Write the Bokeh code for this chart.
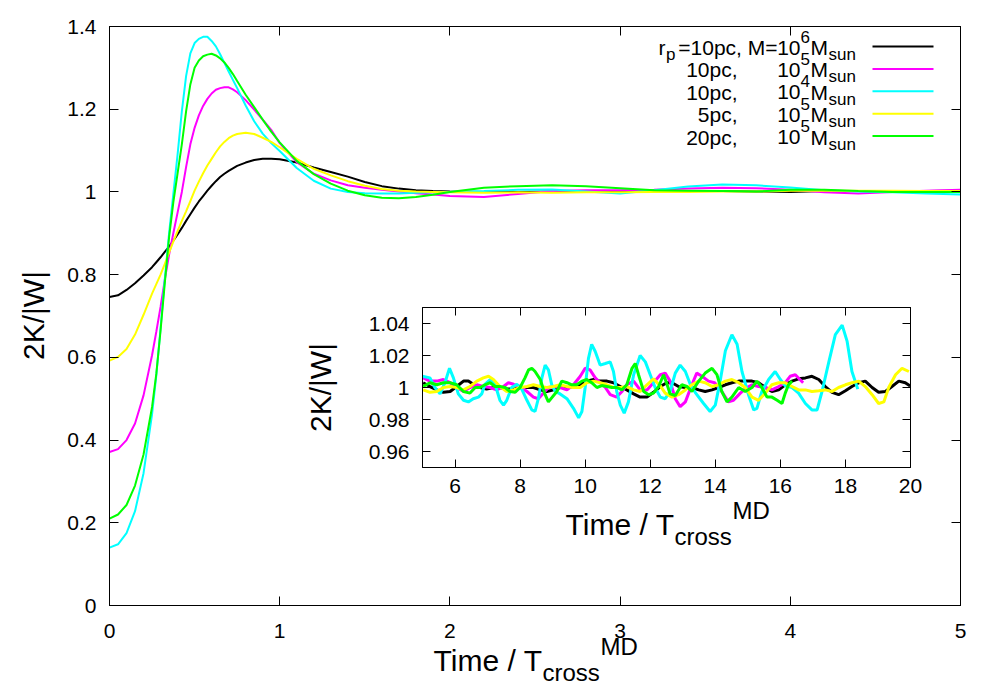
import math
from bokeh.plotting import figure
from bokeh.models import (Range1d, FixedTicker, LinearAxis, Label, Arrow,
                          CustomLabelingPolicy)
from bokeh.embed import file_html
from bokeh.resources import INLINE

# ---------------- data ----------------
MAIN_T = [0, 0.05, 0.1, 0.15, 0.2,
          0.25, 0.275, 0.3, 0.325, 0.35, 0.375, 0.4, 0.425, 0.45, 0.475, 0.5,
          0.525, 0.55, 0.575, 0.6, 0.625, 0.65, 0.675, 0.7, 0.725, 0.75,
          0.8, 0.85, 0.9, 0.95,
          1.0, 1.1, 1.2, 1.3, 1.4, 1.5, 1.6, 1.7, 1.8, 1.9,
          2.0, 2.2, 2.4, 2.6, 2.8, 3.0, 3.2, 3.4, 3.6, 3.8, 4.0, 4.2, 4.4, 4.6, 4.8, 5.0]

MAIN_BLACK = [0.746, 0.750, 0.763, 0.779, 0.798,
              0.818, 0.830, 0.842, 0.855, 0.868, 0.882, 0.897, 0.913, 0.930, 0.946, 0.962,
              0.977, 0.990, 1.003, 1.015, 1.026, 1.036, 1.044, 1.051, 1.057, 1.063,
              1.071, 1.077, 1.080, 1.080,
              1.079, 1.071, 1.059, 1.048, 1.037, 1.024, 1.014, 1.008, 1.004, 1.002,
              1.001, 1.000, 1.000, 1.001, 1.000, 1.000, 1.001, 1.002, 1.002, 1.001,
              1.000, 1.002, 1.002, 1.001, 1.002, 1.003]
MAIN_MAGENTA = [0.371, 0.378, 0.400, 0.440, 0.508,
                0.605, 0.662, 0.722, 0.788, 0.848, 0.900, 0.950, 1.000, 1.060, 1.115, 1.155,
                1.185, 1.208, 1.225, 1.238, 1.247, 1.251, 1.253, 1.253, 1.248, 1.241,
                1.222, 1.199, 1.175, 1.150,
                1.118, 1.072, 1.044, 1.028, 1.016, 1.010, 1.005, 1.001, 0.997, 0.994,
                0.990, 0.988, 0.995, 1.002, 1.004, 1.004, 1.005, 1.008, 1.010, 1.009,
                1.005, 0.999, 0.996, 1.000, 1.003, 1.005]
MAIN_CYAN = [0.140, 0.148, 0.175, 0.228, 0.320,
             0.462, 0.556, 0.670, 0.790, 0.900, 0.995, 1.090, 1.195, 1.280, 1.335, 1.360,
             1.370, 1.375, 1.375, 1.365, 1.352, 1.333, 1.312, 1.291, 1.271, 1.251,
             1.209, 1.171, 1.141, 1.118,
             1.099, 1.058, 1.027, 1.008, 1.000, 0.997, 0.996, 0.996, 0.998, 0.999,
             1.000, 1.002, 1.005, 1.006, 1.001, 0.996, 1.004, 1.013, 1.018, 1.016,
             1.011, 1.004, 1.001, 0.999, 0.996, 0.994]
MAIN_YELLOW = [0.592, 0.601, 0.620, 0.655, 0.703,
               0.754, 0.777, 0.800, 0.826, 0.853, 0.880, 0.905, 0.930, 0.953, 0.978, 1.003,
               1.025, 1.045, 1.064, 1.080, 1.096, 1.110, 1.121, 1.130, 1.136, 1.140,
               1.143, 1.140, 1.131, 1.121,
               1.108, 1.080, 1.056, 1.040, 1.026, 1.015, 1.007, 1.003, 1.001, 1.000,
               0.999, 0.998, 0.999, 0.998, 0.999, 0.999, 1.000, 1.000, 1.001, 1.001,
               1.003, 1.003, 1.003, 1.003, 1.002, 1.002]
MAIN_GREEN = [0.210, 0.220, 0.243, 0.290, 0.365,
              0.480, 0.560, 0.665, 0.780, 0.890, 0.975, 1.045, 1.115, 1.195, 1.260, 1.300,
              1.318, 1.328, 1.332, 1.334, 1.330, 1.323, 1.313, 1.300, 1.285, 1.268,
              1.235, 1.205, 1.175, 1.146,
              1.120, 1.075, 1.043, 1.020, 1.003, 0.992, 0.986, 0.985, 0.988, 0.993,
              1.000, 1.010, 1.014, 1.016, 1.014, 1.009, 1.004, 1.003, 1.002, 1.001,
              1.005, 1.005, 1.002, 1.000, 1.000, 1.000]

INSET_T_BLACK = [5.02, 5.23, 5.44, 5.64, 5.85, 6.05, 6.26, 6.41, 6.56, 6.77, 6.97,
                 7.18, 7.38, 7.59, 7.8, 8.0, 8.2, 8.41, 8.62, 8.82, 9.03,
                 9.23, 9.44, 9.64, 9.85, 10.05, 10.26, 10.46, 10.67, 10.87, 11.08,
                 11.28, 11.49, 11.69, 11.9, 12.1, 12.31, 12.51, 12.67, 12.87, 13.08,
                 13.28, 13.49, 13.69, 13.9, 14.1, 14.31, 14.51, 14.72, 14.92, 15.13,
                 15.33, 15.54, 15.74, 15.95, 16.15, 16.36, 16.56, 16.77, 16.97, 17.18,
                 17.38, 17.59, 17.79, 18.0, 18.2, 18.41, 18.61, 18.82, 19.02, 19.23,
                 19.43, 19.64, 19.84, 19.99]
INSET_BLACK = [1.003, 1.0006, 0.9985, 0.997, 0.9975, 1.0006, 1.004, 1.004, 1.002, 1.000, 0.999,
               1.000, 1.000, 0.999, 0.999, 1.000, 1.000, 1.000, 0.9985, 0.9975, 0.9985,
               1.000, 1.000, 1.0006, 1.0017, 1.004, 1.005, 1.004, 1.004, 1.003, 1.0006,
               0.9985, 0.996, 0.994, 0.994, 0.997, 1.0006, 1.003, 1.003, 1.0006, 1.000,
               1.000, 0.9985, 0.9975, 0.9985, 1.000, 1.0017, 1.003, 1.004, 1.004, 1.004,
               1.003, 1.000, 0.9975, 0.9985, 1.0017, 1.004, 1.0054, 1.006, 1.007, 1.005,
               1.0006, 0.997, 0.9955, 0.998, 1.0006, 1.003, 1.004, 1.000, 0.997, 0.9975,
               1.0006, 1.004, 1.003, 1.001]

INSET_T_MAGENTA = [5.02, 5.23, 5.44, 5.64, 5.85, 6.05, 6.26, 6.46, 6.67, 6.87,
                   7.08, 7.28, 7.49, 7.64, 7.8, 8.0, 8.21, 8.41, 8.56, 8.72,
                   8.87, 9.03, 9.23, 9.44, 9.64, 9.85, 10.0, 10.15, 10.31, 10.46,
                   10.62, 10.77, 10.97, 11.13, 11.28, 11.49, 11.69, 11.9, 12.1, 12.31,
                   12.46, 12.61, 12.77, 12.92, 13.08, 13.28, 13.43, 13.59, 13.79, 13.98,
                   14.2, 14.4, 14.56, 14.77, 14.97, 15.13, 15.33, 15.54, 15.74, 15.95,
                   16.15, 16.3, 16.46, 16.6, 16.7]
INSET_MAGENTA = [1.006, 1.004, 1.004, 1.005, 1.003, 1.000, 0.9975, 1.000, 1.0017, 1.0006,
                 1.000, 0.9985, 1.0006, 1.003, 1.002, 1.0006, 0.9975, 0.994, 0.993, 0.9965,
                 1.000, 1.0006, 1.000, 0.9985, 1.0017, 1.007, 1.012, 1.011, 1.006, 1.003,
                 1.000, 0.9955, 0.994, 0.9975, 1.0017, 1.004, 0.9985, 0.9985, 1.003, 1.008,
                 1.009, 1.004, 0.993, 0.988, 0.991, 1.0017, 1.009, 1.007, 1.004, 1.003,
                 0.9975, 0.991, 0.992, 0.9965, 1.000, 1.0017, 1.0006, 1.000, 0.9985, 1.0006,
                 1.003, 1.007, 1.008, 1.005, 1.003]

INSET_T_CYAN = [5.0, 5.23, 5.38, 5.54, 5.69, 5.83, 5.95, 6.1, 6.26, 6.41,
                6.56, 6.72, 6.82, 6.92, 7.08, 7.23, 7.38, 7.49, 7.59, 7.74,
                7.9, 8.05, 8.21, 8.36, 8.46, 8.56, 8.67, 8.77, 8.87, 8.97,
                9.08, 9.23, 9.44, 9.64, 9.8, 9.9, 10.0, 10.1, 10.2, 10.31,
                10.46, 10.62, 10.77, 10.87, 10.97, 11.08, 11.2, 11.33, 11.49, 11.69,
                11.85, 12.0, 12.15, 12.31, 12.46, 12.61, 12.77, 12.92, 13.08, 13.23,
                13.38, 13.64, 13.84, 14.0, 14.15, 14.31, 14.51, 14.67, 14.82, 15.02,
                15.18, 15.28, 15.43, 15.64, 15.84, 16.0, 16.15, 16.36, 16.56, 16.77,
                16.97, 17.13, 17.28, 17.49, 17.69, 17.9, 18.05, 18.2, 18.38]
INSET_CYAN = [1.007, 1.006, 1.000, 0.996, 1.003, 1.012, 1.006, 0.996, 0.992, 0.991,
              0.993, 0.994, 0.996, 1.002, 1.005, 1.002, 0.992, 0.989, 0.992, 1.000,
              1.002, 0.999, 0.992, 0.986, 0.985, 0.993, 1.006, 1.014, 1.011, 1.002,
              0.9975, 0.996, 0.993, 0.987, 0.981, 0.985, 1.000, 1.018, 1.027, 1.0225,
              1.014, 1.015, 1.016, 1.010, 0.9975, 0.989, 0.984, 0.991, 1.008, 1.020,
              1.016, 1.008, 1.000, 0.994, 0.993, 0.9975, 1.009, 1.014, 1.010, 1.002,
              0.997, 0.990, 0.985, 0.989, 1.004, 1.023, 1.033, 1.027, 1.010, 0.9955,
              0.986, 0.987, 0.9975, 1.005, 1.010, 1.005, 1.001, 1.000, 0.9965, 0.990,
              0.986, 0.986, 0.9975, 1.016, 1.033, 1.039, 1.029, 1.010, 0.999]

INSET_T_YELLOW = [5.02, 5.23, 5.44, 5.64, 5.85, 6.05, 6.26, 6.46, 6.67, 6.87, 7.03,
                  7.18, 7.38, 7.59, 7.8, 8.0, 8.21, 8.41, 8.62, 8.82, 9.03,
                  9.23, 9.44, 9.64, 9.85, 10.05, 10.26, 10.46, 10.67, 10.87, 11.08,
                  11.28, 11.49, 11.69, 11.9, 12.1, 12.31, 12.46, 12.67, 12.87, 13.08,
                  13.28, 13.49, 13.69, 13.9, 14.1, 14.31, 14.51, 14.72, 14.92, 15.13,
                  15.33, 15.54, 15.74, 15.95, 16.15, 16.36, 16.56, 16.77, 16.97, 17.18,
                  17.38, 17.59, 17.79, 18.0, 18.2, 18.41, 18.61, 18.82, 19.02, 19.18,
                  19.33, 19.54, 19.74, 19.95]
INSET_YELLOW = [0.9985, 0.997, 0.9975, 1.000, 1.0006, 1.000, 0.9985, 1.0006, 1.004, 1.006, 1.007,
                1.005, 1.0006, 0.9975, 0.9985, 1.000, 1.0006, 1.0017, 1.0006, 1.000, 1.0006,
                1.0017, 1.0006, 1.000, 1.000, 1.003, 1.004, 1.003, 1.0017, 1.000, 1.000,
                1.0006, 0.9985, 0.9975, 1.0017, 1.0054, 1.001, 0.9965, 0.994, 0.9955, 0.9985,
                1.0017, 1.004, 1.003, 1.0006, 1.0017, 1.004, 1.005, 1.003, 1.000, 0.994,
                0.992, 0.9965, 1.0017, 1.003, 1.003, 1.0006, 0.9985, 0.9985, 0.9975, 0.998,
                0.9985, 0.9975, 1.000, 1.0017, 1.003, 1.004, 1.0006, 0.9955, 0.990, 0.991,
                1.000, 1.008, 1.012, 1.010]

INSET_T_GREEN = [5.02, 5.23, 5.44, 5.64, 5.85, 6.05, 6.26, 6.46, 6.62, 6.77,
                 6.92, 7.08, 7.23, 7.38, 7.54, 7.69, 7.85, 8.0, 8.15, 8.26,
                 8.36, 8.46, 8.62, 8.77, 8.87, 8.97, 9.13, 9.28, 9.44, 9.59,
                 9.74, 9.9, 10.05, 10.2, 10.36, 10.51, 10.67, 10.82, 10.97, 11.13,
                 11.28, 11.44, 11.54, 11.64, 11.8, 11.95, 12.1, 12.26, 12.41, 12.5,
                 12.61, 12.77, 12.97, 13.13, 13.28, 13.49, 13.69, 13.9, 14.05, 14.2,
                 14.36, 14.51, 14.72, 14.92, 15.13, 15.28, 15.43, 15.59, 15.74, 15.9,
                 16.05, 16.15, 16.25, 16.36]
INSET_GREEN = [1.0006, 1.003, 1.0017, 1.003, 1.003, 1.0017, 0.9975, 0.9965, 1.000, 1.000,
               1.0017, 1.003, 1.0006, 1.0006, 1.000, 0.9975, 0.997, 1.000, 1.006, 1.011,
               1.012, 1.010, 1.005, 0.9955, 0.991, 0.9935, 0.9975, 1.004, 1.003, 1.0017,
               1.0017, 1.004, 1.005, 1.003, 1.000, 1.0012, 1.0006, 1.000, 1.000, 0.9985,
               1.0017, 1.012, 1.015, 1.008, 0.9975, 0.9955, 0.9965, 1.0006, 1.008, 1.003,
               0.996, 0.995, 1.0017, 1.0006, 0.9975, 1.004, 1.009, 1.012, 1.008, 0.9975,
               0.991, 0.994, 1.000, 0.9975, 1.000, 1.004, 1.000, 0.994, 0.994, 0.992,
               0.990, 0.9965, 1.0017, 1.004]

SERIES_COLORS = ["#000000", "#ff00ff", "#00ffff", "#ffff00", "#00ff00"]
LEGEND_PREFIX = ["=10pc, M=", "10pc,", "10pc,", "5pc,", "20pc,"]
LEGEND_EXP = ["6", "5", "4", "5", "5"]

MAIN_XTICKS = [0, 1, 2, 3, 4, 5]
MAIN_YTICKS = [0, 0.2, 0.4, 0.6, 0.8, 1.0, 1.2, 1.4]
INSET_XTICKS = [6, 8, 10, 12, 14, 16, 18, 20]
INSET_YTICKS = [0.96, 0.98, 1.0, 1.02, 1.04]

# ---------------- style ----------------
FONT = "Liberation Sans"
TICK_FS = "21px"
AXLAB_FS = "30px"
AXSUB_FS = "24px"
LEG_FS = "21px"
LEG_SUB_FS = "17px"
W, H = 1000, 700

HIDE_LABELS = CustomLabelingPolicy(code="""
try { return new indices.constructor(indices.size, 0); } catch (e) { return indices; }
""")


def style_axes(fig, xticks, yticks, tick_len, xstand, ystand):
    fig.xaxis.ticker = FixedTicker(ticks=xticks)
    fig.yaxis.ticker = FixedTicker(ticks=yticks)
    for ax in (fig.xaxis[0], fig.yaxis[0]):
        ax.major_tick_in = tick_len
        ax.major_tick_out = 0
        ax.minor_tick_line_color = None
        ax.axis_line_color = "black"
        ax.major_tick_line_color = "black"
        ax.major_label_text_font = FONT
        ax.major_label_text_font_size = TICK_FS
        ax.major_label_text_color = "black"
    fig.xaxis.major_label_standoff = xstand
    fig.yaxis.major_label_standoff = ystand
    fig.yaxis.major_label_overrides = {1: "1", 0: "0"}
    for loc, ticks in (("above", xticks), ("right", yticks)):
        m = LinearAxis(ticker=FixedTicker(ticks=ticks), major_label_text_font_size="1px",
                       major_label_policy=HIDE_LABELS,
                       major_label_standoff=0, major_tick_in=tick_len, major_tick_out=0,
                       minor_tick_line_color=None, axis_line_color="black",
                       major_tick_line_color="black")
        fig.add_layout(m, loc)
    fig.xgrid.visible = False
    fig.ygrid.visible = False
    fig.outline_line_color = "black"


def label(fig, origin, text, X, Y, size, align="left", baseline="alphabetic", angle=0.0):
    """Place a text piece at page position (X, Y); origin = page position of frame bottom-left."""
    ox, oy = origin
    fig.add_layout(Label(x=X - ox, y=oy - Y, x_units="screen", y_units="screen", text=text,
                         text_font=FONT, text_font_size=size, text_color="black",
                         text_align=align, text_baseline=baseline, angle=angle))


# ---------------- main figure ----------------
p = figure(width=W, height=H, x_range=Range1d(0, 5), y_range=Range1d(0, 1.4),
           output_backend="svg", toolbar_location=None, title=None,
           min_border_left=109, min_border_right=40, min_border_top=26, min_border_bottom=95)
style_axes(p, MAIN_XTICKS, MAIN_YTICKS, 9, 18, 13)

main_series = [MAIN_BLACK, MAIN_MAGENTA, MAIN_CYAN, MAIN_YELLOW, MAIN_GREEN]
for ys, c in zip(main_series, SERIES_COLORS):
    p.line(MAIN_T, ys, line_color=c, line_width=2)

MO = (109, 605)  # page position of main frame bottom-left

# legend: right-justified text with line samples on the right
for i, (c, pre, ex) in enumerate(zip(SERIES_COLORS, LEGEND_PREFIX, LEGEND_EXP)):
    ry = 46 + 22.4 * i
    p.add_layout(Arrow(x_start=872 - MO[0], x_end=933 - MO[0], y_start=MO[1] - ry, y_end=MO[1] - ry,
                       start_units="screen", end_units="screen", start=None, end=None,
                       line_color=c, line_width=2))
    if i == 0:
        label(p, MO, "r", 658, ry + 1, LEG_FS)
        label(p, MO, "p", 665.5, ry + 8, LEG_SUB_FS)
        label(p, MO, pre, 777, ry + 1, LEG_FS, align="right")
    else:
        label(p, MO, pre, 737, ry + 1, LEG_FS, align="right")
    label(p, MO, "10", 800, ry + 1, LEG_FS, align="right")
    label(p, MO, ex, 800, ry - 10, LEG_SUB_FS)
    label(p, MO, "M", 810, ry + 1, LEG_FS)
    label(p, MO, "sun", 828, ry + 8, LEG_SUB_FS)

# ---------------- inset figure ----------------
inset = figure(width=625, height=252, x_range=Range1d(5, 20), y_range=Range1d(0.95, 1.05),
               output_backend="svg", toolbar_location=None, title=None,
               min_border_left=122, min_border_right=15, min_border_top=9, min_border_bottom=83,
               styles={"position": "absolute", "left": "300px", "top": "298px"})
style_axes(inset, INSET_XTICKS, INSET_YTICKS, 8, 11, 13)

inset_series = [(INSET_T_BLACK, INSET_BLACK), (INSET_T_MAGENTA, INSET_MAGENTA),
                (INSET_T_CYAN, INSET_CYAN), (INSET_T_YELLOW, INSET_YELLOW),
                (INSET_T_GREEN, INSET_GREEN)]
for (xs, ys), c in zip(inset_series, SERIES_COLORS):
    inset.line(xs, ys, line_color=c, line_width=3)

# ---------------- transparent overlay for axis titles ----------------
over = figure(width=W, height=H, x_range=Range1d(0, 1), y_range=Range1d(0, 1),
              x_axis_type=None, y_axis_type=None, output_backend="svg",
              toolbar_location=None, title=None, min_border=0,
              background_fill_color=None, border_fill_color=None, outline_line_color=None,
              styles={"position": "absolute", "left": "0px", "top": "0px"})
OO = (0, H)
# main axis titles
label(over, OO, "2K/|W|", 33, 315, AXLAB_FS, align="center", baseline="middle", angle=math.pi / 2)
label(over, OO, "Time / T", 542, 660, AXLAB_FS, align="right")
label(over, OO, "cross", 542, 672, AXSUB_FS)
label(over, OO, "MD", 600, 646, AXSUB_FS)
# inset axis titles
label(over, OO, "2K/|W|", 320, 387, AXLAB_FS, align="center", baseline="middle", angle=math.pi / 2)
label(over, OO, "Time / T", 674, 524, AXLAB_FS, align="right")
label(over, OO, "cross", 674, 536, AXSUB_FS)
label(over, OO, "MD", 732, 510, AXSUB_FS)

open("out.html", "w").write(file_html([p, inset, over], INLINE))
